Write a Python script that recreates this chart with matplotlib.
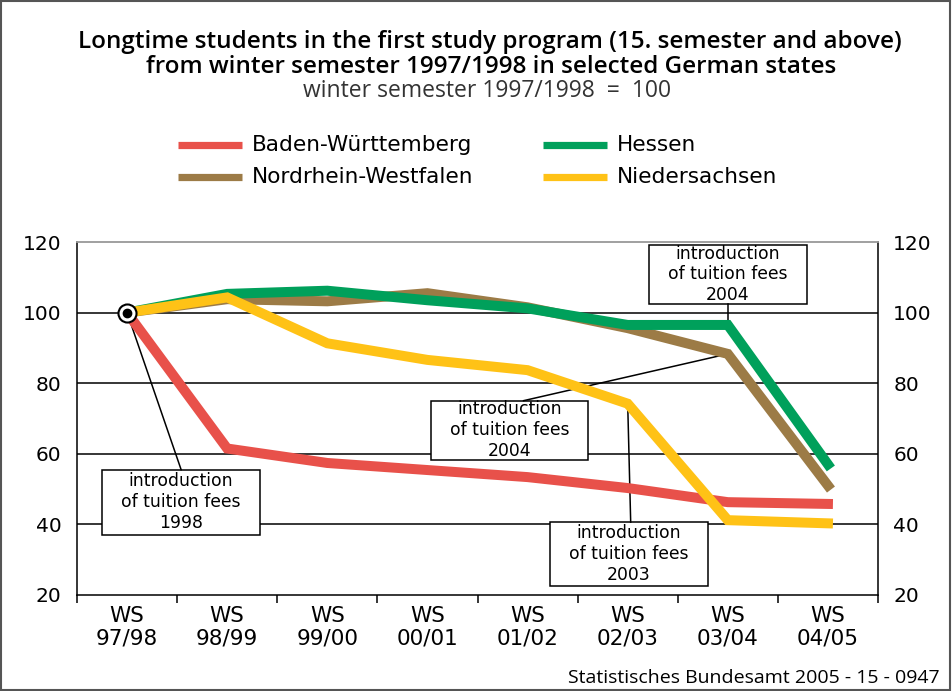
import matplotlib.pyplot as plt
from matplotlib.patches import Rectangle

# data
semesters = ['WS\n97/98', 'WS\n98/99', 'WS\n99/00', 'WS\n00/01',
             'WS\n01/02', 'WS\n02/03', 'WS\n03/04', 'WS\n04/05']
baden = [100, 61.5, 57.4, 55.4, 53.4, 50.3, 46.3, 45.8]
hessen = [100, 105.3, 106.2, 103.5, 101.2, 96.5, 96.5, 57]
nrw = [100, 103.8, 103.2, 105.5, 101.5, 95.6, 88.3, 51]
nieders = [100, 104.3, 91.3, 86.6, 83.7, 74.2, 41.2, 40.3]

col_bw = '#E8514A'
col_he = '#00A05B'
col_nrw = '#9C7B46'
col_ni = '#FFC216'

W, H = 952, 691
fig = plt.figure(figsize=(W / 100, H / 100), dpi=100)


def fx(px):
    return px / W


def fy(py):
    return 1 - py / H


ax = fig.add_axes([fx(77), fy(595), fx(878) - fx(77), fy(242) - fy(595)])
x = range(len(semesters))

lw = 7.2
ax.plot(x, baden, color=col_bw, lw=lw, solid_joinstyle='miter', zorder=3)
ax.plot(x, nrw, color=col_nrw, lw=lw, solid_joinstyle='miter', zorder=3)
ax.plot(x, hessen, color=col_he, lw=lw, solid_joinstyle='miter', zorder=4)
ax.plot(x, nieders, color=col_ni, lw=lw, solid_joinstyle='miter', zorder=5)
ax.plot([0], [100], 'o', ms=13, mfc='white', mec='black', mew=1.5, zorder=6)
ax.plot([0], [100], 'o', ms=6, color='black', zorder=7)

ax.set_xlim(-0.5, 7.5)
ax.set_ylim(20, 120)
for v in [40, 60, 80, 100]:
    ax.axhline(v, color='black', lw=1.1, zorder=1)

ax.set_xticks([i + 0.5 for i in range(-1, 8)])
ax.set_xticklabels([])
ax.set_xticks(list(x), minor=True)
ax.set_xticklabels(semesters, minor=True, fontsize=15.5, family='DejaVu Sans',
                   linespacing=1.15)
ax.tick_params(axis='x', which='major', length=6, width=1.1, direction='out')
ax.tick_params(axis='x', which='minor', length=0, pad=8)

ax.set_yticks([20, 40, 60, 80, 100, 120])
ax.tick_params(axis='y', length=0, labelsize=14.5, labelright=True)
for t in ax.yaxis.get_major_ticks():
    t.set_pad(11)
    t.label2.set_horizontalalignment('left')
    if t.label1.get_text() == '100':
        t.label1.set_fontweight('bold')
        t.label2.set_fontweight('bold')

for s in ['left', 'right', 'bottom']:
    ax.spines[s].set_color('black')
    ax.spines[s].set_linewidth(1.1)
ax.spines['top'].set_color('#999999')
ax.spines['top'].set_linewidth(1.3)

# annotation boxes: (year, box centre x, centre y, width, height, target, side, line start x)
txt = 'introduction\nof tuition fees\n'
notes = [
    ('1998', 0.54, 46.3, 1.58, 18.4, (0, 100), 'top', 0.54),
    ('2004', 3.82, 66.7, 1.56, 16.7, (6, 88.3), 'top', 3.96),
    ('2004', 6.0, 110.8, 1.58, 16.7, (6, 96.5), 'bottom', 6.0),
    ('2003', 5.01, 31.6, 1.58, 18.1, (5, 74.2), 'top', 5.03),
]
for year, cx, cy, bw, bh, (tx, ty), side, lx in notes:
    ax.add_patch(Rectangle((cx - bw / 2, cy - bh / 2), bw, bh, fc='white',
                           ec='black', lw=1.1, zorder=2))
    ly = cy + bh / 2 if side == 'top' else cy - bh / 2
    ax.plot([lx, tx], [ly, ty], color='black', lw=1.1, zorder=2)
    ax.text(cx, cy, txt + year, ha='center', va='center', fontsize=12.4,
            family='DejaVu Sans', linespacing=1.2, zorder=2.5)

# titles
fig.text(fx(490), fy(42), 'Longtime students in the first study program (15. semester and above)',
         ha='center', va='center', fontsize=17.5, family='Open Sans', fontweight='semibold')
fig.text(fx(491), fy(67), 'from winter semester 1997/1998 in selected German states',
         ha='center', va='center', fontsize=17.5, family='Open Sans', fontweight='semibold')
fig.text(fx(487), fy(91), 'winter semester 1997/1998  =  100',
         ha='center', va='center', fontsize=16.5, family='Open Sans', color='#333333')

# legend
legend = [('Baden-Württemberg', col_bw, 178, 145), ('Hessen', col_he, 543, 145),
          ('Nordrhein-Westfalen', col_nrw, 178, 177), ('Niedersachsen', col_ni, 543, 177)]
for name, c, lx, ly in legend:
    fig.add_artist(plt.Line2D([fx(lx), fx(lx + 64)], [fy(ly), fy(ly)], color=c,
                              lw=5.2, solid_capstyle='butt'))
    fig.text(fx(lx + 74), fy(ly), name, ha='left', va='center', fontsize=15.6,
             family='DejaVu Sans')

fig.text(fx(940), fy(678), 'Statistisches Bundesamt 2005 - 15 - 0947', ha='right',
         va='center', fontsize=14, family='Open Sans')

fig.add_artist(Rectangle((0.001, 0.001), 0.997, 0.997, transform=fig.transFigure,
                         fill=False, ec='#555555', lw=1.5))

fig.savefig('out.png', dpi=100)
